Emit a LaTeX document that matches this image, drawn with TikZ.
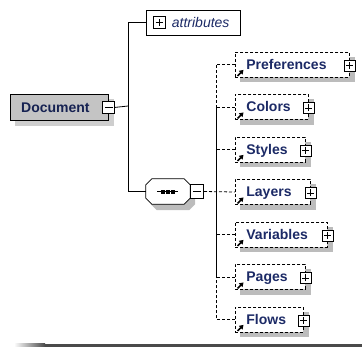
\documentclass[tikz,border=0pt]{standalone}
\usepackage{fontspec}
\setmainfont{Liberation Sans}
\usetikzlibrary{arrows.meta,calc,backgrounds}
\definecolor{txt}{HTML}{1C2A66}
\definecolor{docfill}{HTML}{C4C4C4}
\definecolor{shadowcol}{HTML}{BCBCBC}
\definecolor{docshadow}{HTML}{CECECE}
\definecolor{linegray}{HTML}{4A4A4A}
\tikzset{
  lblfont/.style={font=\fontsize{14}{16}\selectfont\bfseries, text=txt},
  childbox/.style={draw, dash pattern=on 3pt off 2pt, fill=white, lblfont,
    inner xsep=0pt, inner ysep=0pt, align=left, minimum height=25pt,
    text height=10pt, text depth=0pt, anchor=west, line width=0.8pt},
  plusbox/.style={draw, fill=white, minimum size=11pt, inner sep=0pt, line width=0.8pt,
    path picture={\draw[line width=0.8pt] ([xshift=-3.5pt]path picture bounding box.center) -- ([xshift=3.5pt]path picture bounding box.center)
      ([yshift=-3.5pt]path picture bounding box.center) -- ([yshift=3.5pt]path picture bounding box.center);}},
  minusbox/.style={draw, fill=white, minimum width=12pt, minimum height=12pt, inner sep=0pt, line width=0.8pt,
    path picture={\draw[line width=0.8pt] ([xshift=-4pt]path picture bounding box.center) -- ([xshift=4pt]path picture bounding box.center);}},
  conn/.style={line width=0.8pt},
  dconn/.style={line width=0.8pt, dash pattern=on 3pt off 2pt},
  refarrow/.style={line width=1.6pt, -{Triangle[length=4pt,width=5pt]}},
}
\begin{document}
\begin{tikzpicture}[x=1pt,y=-1pt]
\useasboundingbox (0,0) rectangle (362,347);

% Document
\node[draw, fill=docfill, line width=0.8pt,
  minimum width=98pt, minimum height=26pt, inner sep=0pt, lblfont, text=txt!80!black,
  text height=10pt, text depth=0pt, anchor=north west] (doc) at (10,94) {Document\hspace*{8pt}};
\node[minusbox] (docminus) at (doc.east) {};

% attributes
\node[draw, fill=white, line width=0.8pt, minimum height=25pt, inner xsep=0pt, inner ysep=0pt,
  text width=94pt, align=left, text height=10pt, text depth=0pt,
  font=\fontsize{14}{16}\selectfont\itshape, text=txt, anchor=west] (attr) at (146,22.5) {\hspace*{25.5pt}attributes};
\node[plusbox, minimum size=12pt] (attrplus) at (159,22.5) {};

% sequence (octagon)
\node[minimum width=44pt, minimum height=25pt, inner sep=0pt] (seq) at (168,191.5) {};
\draw[fill=white, line width=0.8pt]
  ($(seq.north west)+(6,0)$) -- ($(seq.north east)+(-6,0)$) -- ($(seq.north east)+(0,6)$)
  -- ($(seq.south east)+(0,-6)$) -- ($(seq.south east)+(-6,0)$) -- ($(seq.south west)+(6,0)$)
  -- ($(seq.south west)+(0,-6)$) -- ($(seq.north west)+(0,6)$) -- cycle;
\draw[line width=1pt] ($(seq.center)+(-11,0.5)$) -- ($(seq.center)+(10,0.5)$);
\foreach \dx in {-5,0,5} \fill ($(seq.center)+(\dx-1.6,-1.1)$) rectangle ++(3.2,3.2);
\node[minusbox, minimum width=13pt, minimum height=14pt, anchor=west] (seqminus) at (seq.east) {};

% trunk
\coordinate (tr) at (128,106);
\draw[conn] (docminus.east) -- (tr);
\draw[conn] (attr.west) -| (tr);
\draw[conn] (seq.west) -| (tr);

% children
\node[childbox, text width=114pt] (pref) at (235,64.5) {\hspace*{11pt}Preferences};
\node[childbox, text width=73pt] (colors) at (235,107) {\hspace*{11pt}Colors};
\node[childbox, text width=70pt] (styles) at (235,149.5) {\hspace*{11pt}Styles};
\node[childbox, text width=75pt] (layers) at (235,192) {\hspace*{11pt}Layers};
\node[childbox, text width=92pt] (vars) at (235,234.5) {\hspace*{11pt}Variables};
\node[childbox, text width=70pt] (pages) at (235,277) {\hspace*{11pt}Pages};
\node[childbox, text width=68pt] (flows) at (235,319.5) {\hspace*{11pt}Flows};

\foreach \n in {pref,colors,styles,layers,vars,pages,flows}{
  \node[plusbox] (\n plus) at ($(\n.east)+(0,1)$) {};
  \draw[refarrow] ($(\n.south west)+(2.5,-1.5)$) -- ++(6,-6);
}

\coordinate (dt) at (216,192);
\draw[dconn] (seqminus.east) -- (layers.west);
\foreach \n in {pref,colors,styles,vars,pages,flows}{
  \draw[dconn] (\n.west) -| (dt);
}

% shadows
\begin{pgfonlayer}{background}
  \fill[docshadow] ($(doc.north west)+(5,5)$) rectangle ($(doc.south east)+(5,5)$);
  \foreach \n in {pref,colors,styles,layers,vars,pages,flows}{
    \fill[shadowcol] ($(\n.north west)+(5,5)$) rectangle ($(\n.south east)+(5,5)$);
  }
  \fill[shadowcol]
  ($(seq.north west)+(11,6)$) -- ($(seq.north east)+(-1,6)$) -- ($(seq.north east)+(5,12)$)
  -- ($(seq.south east)+(5,0)$) -- ($(seq.south east)+(-1,6)$) -- ($(seq.south west)+(11,6)$)
  -- ($(seq.south west)+(5,0)$) -- ($(seq.north west)+(5,12)$) -- cycle;
\end{pgfonlayer}

% bottom rule
\shade[left color=white, right color=linegray] (14,344) rectangle (45,347);
\fill[linegray] (45,344) rectangle (362,347);
\end{tikzpicture}
\end{document}
